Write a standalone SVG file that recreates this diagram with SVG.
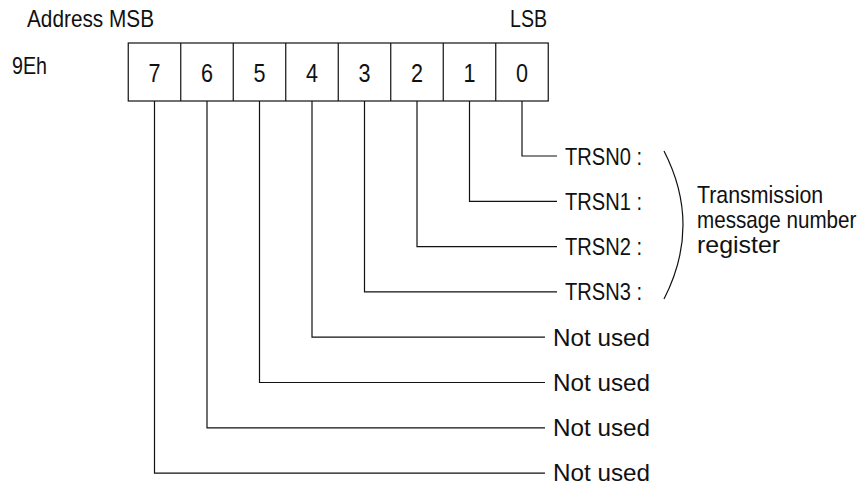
<svg xmlns="http://www.w3.org/2000/svg" width="864" height="485" viewBox="0 0 864 485">
<style>
text{font-family:"Liberation Sans",Arial,sans-serif;font-size:24px;fill:#111}
.ln{fill:none;stroke:#111;stroke-width:1.2}
.c{text-anchor:middle;font-size:25px}
</style>
<rect width="864" height="485" fill="#fff"/>
<g id="header">
<text x="27" y="26.5" textLength="127" lengthAdjust="spacingAndGlyphs">Address MSB</text>
<text x="510" y="26.5" textLength="37" lengthAdjust="spacingAndGlyphs">LSB</text>
<text x="12" y="74" textLength="35" lengthAdjust="spacingAndGlyphs">9Eh</text>
</g>
<g id="register">
<rect class="ln" x="128.25" y="43" width="420" height="58"/>
<path class="ln" d="M180.75 43V101M233.25 43V101M285.75 43V101M338.25 43V101M390.75 43V101M443.25 43V101M495.75 43V101"/>
<text class="c" x="154.5" y="82" textLength="12" lengthAdjust="spacingAndGlyphs">7</text>
<text class="c" x="207" y="82" textLength="12" lengthAdjust="spacingAndGlyphs">6</text>
<text class="c" x="259.5" y="82" textLength="12" lengthAdjust="spacingAndGlyphs">5</text>
<text class="c" x="312" y="82" textLength="12" lengthAdjust="spacingAndGlyphs">4</text>
<text class="c" x="364.5" y="82" textLength="12" lengthAdjust="spacingAndGlyphs">3</text>
<text class="c" x="417" y="82" textLength="12" lengthAdjust="spacingAndGlyphs">2</text>
<text class="c" x="469.5" y="82" textLength="12" lengthAdjust="spacingAndGlyphs">1</text>
<text class="c" x="522" y="82" textLength="12" lengthAdjust="spacingAndGlyphs">0</text>
</g>
<g id="connectors">
<path class="ln" d="M522 101V156H557"/>
<path class="ln" d="M469.5 101V201.3H557"/>
<path class="ln" d="M417 101V246.6H557"/>
<path class="ln" d="M364.5 101V291.9H557"/>
<path class="ln" d="M312 101V337.2H545"/>
<path class="ln" d="M259.5 101V382.5H545"/>
<path class="ln" d="M207 101V427.8H545"/>
<path class="ln" d="M154.5 101V473.1H545"/>
</g>
<g id="bit-labels">
<text x="565" y="164.5" textLength="77" lengthAdjust="spacingAndGlyphs">TRSN0 :</text>
<text x="565" y="209.8" textLength="77" lengthAdjust="spacingAndGlyphs">TRSN1 :</text>
<text x="565" y="255.1" textLength="77" lengthAdjust="spacingAndGlyphs">TRSN2 :</text>
<text x="565" y="300.4" textLength="77" lengthAdjust="spacingAndGlyphs">TRSN3 :</text>
<text x="553" y="345.7" textLength="97" lengthAdjust="spacingAndGlyphs">Not used</text>
<text x="553" y="391" textLength="97" lengthAdjust="spacingAndGlyphs">Not used</text>
<text x="553" y="436.3" textLength="97" lengthAdjust="spacingAndGlyphs">Not used</text>
<text x="553" y="481.3" textLength="97" lengthAdjust="spacingAndGlyphs">Not used</text>
</g>
<g id="bracket">
<path class="ln" d="M664 151Q702 225 664 299"/>
<text transform="translate(697 202.5) scale(0.89 1)">Transmission</text>
<text transform="translate(697 227.5) scale(0.86 1)">message number</text>
<text transform="translate(697 252.5) scale(1.04 1)">register</text>
</g>
</svg>
